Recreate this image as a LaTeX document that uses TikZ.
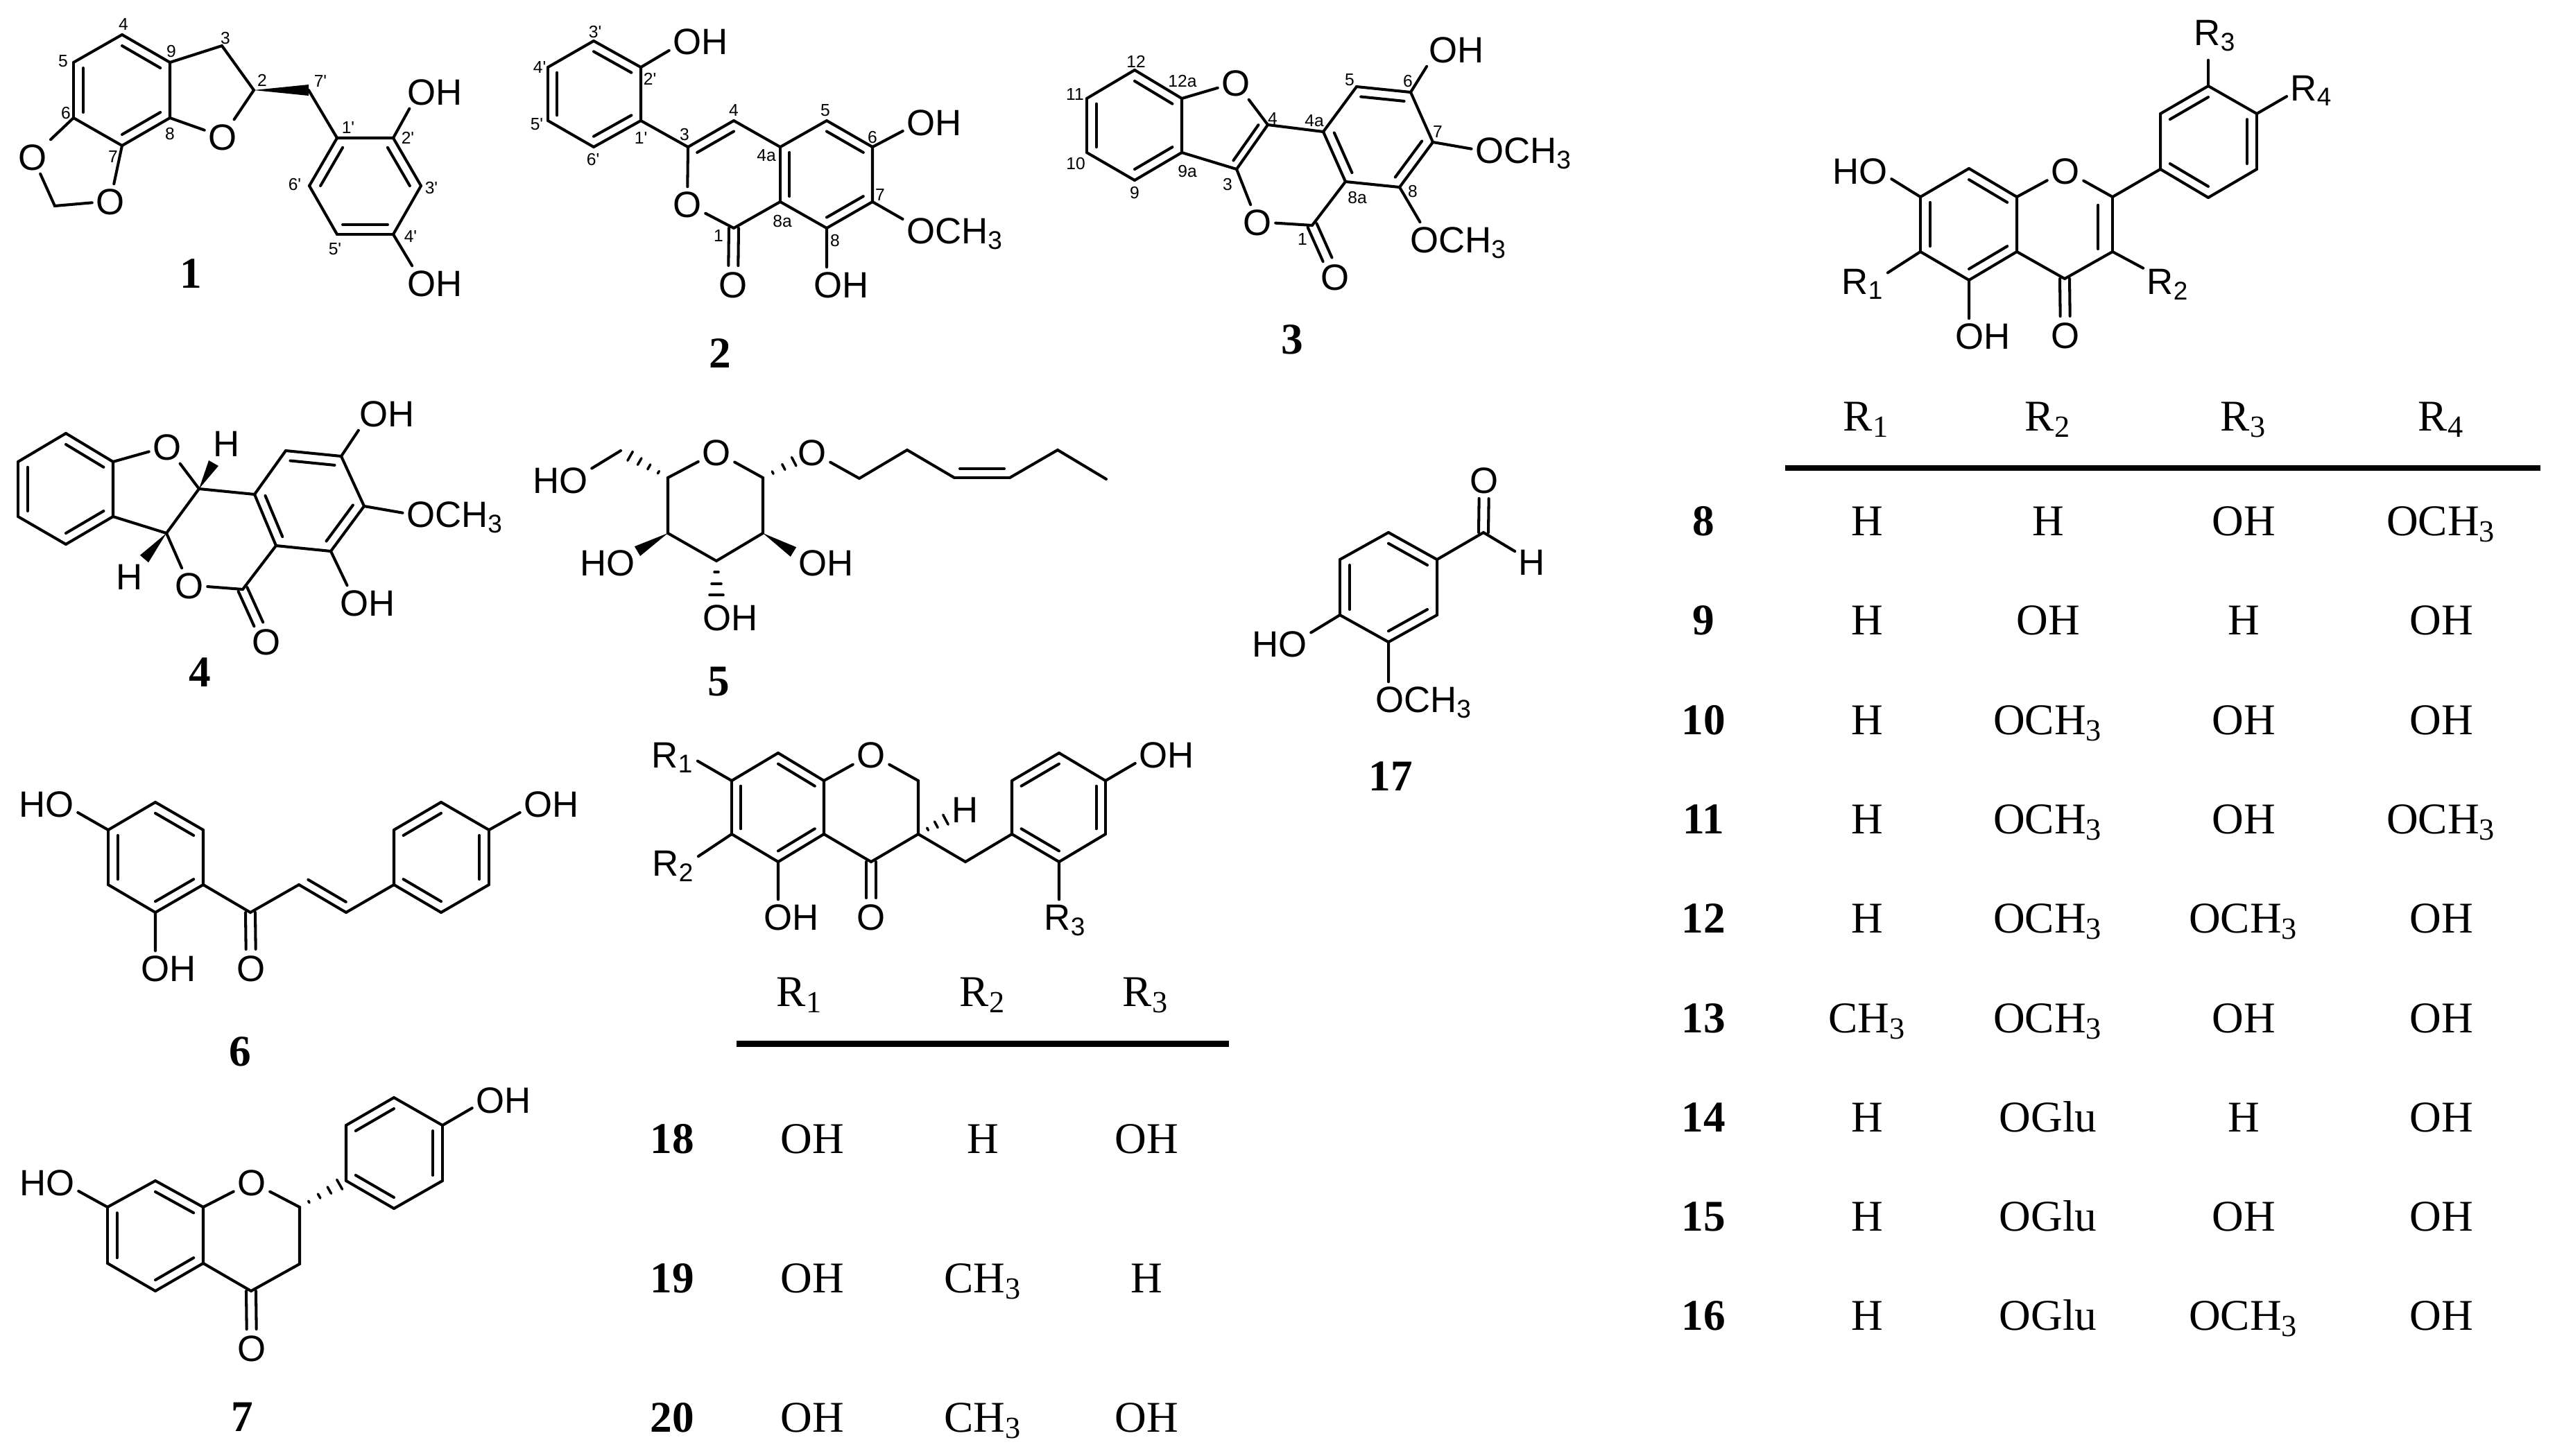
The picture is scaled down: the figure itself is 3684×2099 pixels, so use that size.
\documentclass[tikz,border=0pt]{standalone}
\usepackage{fontspec}
\setmainfont{Liberation Serif}
\newfontfamily\atomfont{Liberation Sans}
\usetikzlibrary{calc}
\tikzset{bond/.style={line width=1.15pt,line cap=round}}
\tikzset{hash bond/.style={line width=1pt,line cap=round}}
\tikzset{table rule/.style={line width=2.55pt}}
\tikzset{atom/.style={font=\atomfont\fontsize{15}{16}\selectfont,inner sep=0.05cm,text height=0.38cm,text depth=0cm}}
\tikzset{locant/.style={font=\atomfont\fontsize{7}{8}\selectfont,inner sep=0pt}}
\tikzset{compound/.style={font=\bfseries\fontsize{18}{20}\selectfont,inner sep=0pt}}
\tikzset{cell/.style={font=\fontsize{18}{20}\selectfont,inner sep=0pt,anchor=base}}
\tikzset{row/.style={font=\bfseries\fontsize{18}{20}\selectfont,inner sep=0pt,anchor=base}}
\newcommand{\dbond}[3]{\draw [bond] (#1) -- (#2) ($(#3)!0.8!(#1)$) -- ($(#3)!0.8!(#2)$);}
\newcommand{\cobond}[2]{\draw [bond,shorten >=0.27cm] ($(#1)!0.07cm!90:(#2)$) -- ($(#2)!0.07cm!-90:(#1)$); \draw [bond,shorten >=0.27cm] ($(#1)!0.07cm!-90:(#2)$) -- ($(#2)!0.07cm!90:(#1)$);}
\newcommand{\wedgebond}[2]{\fill (#1) -- ($(#2)!0.08cm!90:(#1)$) -- ($(#2)!0.08cm!-90:(#1)$) -- cycle;}
\newcommand{\hashbond}[3]{\foreach \fr/\hw in {#3} {\draw [hash bond] ($(#1)!\fr!(#2)!\hw cm!90:(#2)$) -- ($(#1)!\fr!(#2)!\hw cm!-90:(#2)$);}}
\begin{document}
\begin{tikzpicture}[x=0.01cm,y=-0.01cm]
        \useasboundingbox (0,0) rectangle (3684,2099);

        \coordinate (a4) at (176,50);
        \coordinate (a9) at (245,90);
        \coordinate (a8) at (245,170);
        \coordinate (a7) at (176,210);
        \coordinate (a6) at (106,170);
        \coordinate (a5) at (106,90);
        \coordinate (a3) at (320,66);
        \coordinate (a2) at (366,130);
        \coordinate (a7') at (445,130);
        \coordinate (a1') at (486,199);
        \coordinate (a2') at (567,199);
        \coordinate (a3') at (607,268);
        \coordinate (a4') at (567,338);
        \coordinate (a5') at (486,338);
        \coordinate (a6') at (446,268);
        \coordinate (a10) at (79,297);
        \coordinate (ra) at ($(a4)!.5!(a7)$);
        \coordinate (rb) at ($(a3')!.5!(a6')$);
        \node (ao1) [atom] at (321,197) {O};
        \node (ao2) [atom] at (47,226) {O};
        \node (ao3) [atom] at (159,290) {O};
        \node (aoh1) [atom] at (627,132) {OH};
        \node (aoh2) [atom] at (627,408) {OH};
        \node (al1) [compound] at (275,395) {1};

        \draw [bond] (a5) -- (a4) (a9) -- (a8) (a7) -- (a6);
        \dbond{a4}{a9}{ra} \dbond{a8}{a7}{ra} \dbond{a6}{a5}{ra}
        \draw [bond] (a9) -- (a3) -- (a2) -- (ao1) -- (a8);
        \draw [bond] (a6) -- (ao2) -- (a10) -- (ao3) -- (a7);
        \wedgebond{a2}{a7'}
        \draw [bond] (a7') -- (a1') (a1') -- (a2') (a3') -- (a4') (a5') -- (a6');
        \dbond{a1'}{a6'}{rb} \dbond{a2'}{a3'}{rb} \dbond{a4'}{a5'}{rb}
        \draw [bond] (a2') -- (aoh1.214) (a4') -- (aoh2.143);

        \node (an4) [locant] at (178,35) {4};
        \node (an3) [locant] at (325,55) {3};
        \node (an9) [locant] at (247,74) {9};
        \node (an5) [locant] at (91,88) {5};
        \node (an2) [locant] at (378,116) {2};
        \node (an7') [locant] at (462,117) {7'};
        \node (an6) [locant] at (95,163) {6};
        \node (an8) [locant] at (245,193) {8};
        \node (an1') [locant] at (502,184) {1'};
        \node (an2') [locant] at (588,199) {2'};
        \node (an7) [locant] at (163,226) {7};
        \node (an6') [locant] at (425,266) {6'};
        \node (an3') [locant] at (622,271) {3'};
        \node (an4') [locant] at (592,341) {4'};
        \node (an5') [locant] at (483,359) {5'};

        \coordinate (b3') at (856,59);
        \coordinate (b2') at (924,97);
        \coordinate (b1') at (924,174);
        \coordinate (b6') at (856,212);
        \coordinate (b5') at (790,174);
        \coordinate (b4') at (790,97);
        \coordinate (b3) at (992,212);
        \coordinate (b4) at (1058,174);
        \coordinate (b4a) at (1125,212);
        \coordinate (b5) at (1192,174);
        \coordinate (b6) at (1258,212);
        \coordinate (b7) at (1258,291);
        \coordinate (b8) at (1192,329);
        \coordinate (b8a) at (1125,291);
        \coordinate (b1) at (1058,329);
        \coordinate (rc) at ($(b3')!.5!(b6')$);
        \coordinate (rd) at ($(b4)!.5!(b1)$);
        \coordinate (re) at ($(b5)!.5!(b8)$);
        \node (bo1) [atom] at (991,294) {O};
        \node (bo2) [atom] at (1057,410) {O};
        \node (boh1) [atom] at (1010,59) {OH};
        \node (boh2) [atom] at (1347,176) {OH};
        \node (boh3) [atom] at (1213,410) {OH};
        \node (bme) [atom] at (1377,332) {OCH\textsubscript{3}};
        \node (bl2) [compound] at (1038,510) {2};

        \draw [bond] (b3') -- (b4') (b5') -- (b6') (b2') -- (b1');
        \dbond{b3'}{b2'}{rc} \dbond{b4'}{b5'}{rc} \dbond{b6'}{b1'}{rc}
        \draw [bond] (b1') -- (b3) -- (bo1) -- (b1) (b4) -- (b4a) (b8a) -- (b1);
        \dbond{b3}{b4}{rd}
        \cobond{b1}{bo2}
        \draw [bond] (b4a) -- (b5) (b6) -- (b7) (b8) -- (b8a);
        \dbond{b4a}{b8a}{re} \dbond{b5}{b6}{re} \dbond{b7}{b8}{re}
        \draw [bond] (b2') -- (boh1.197) (b6) -- (boh2.196) (b7) -- (bme.168) (b8) -- (b8 |- boh3.north);

        \node (bn3') [locant] at (858,46) {3'};
        \node (bn4') [locant] at (778,97) {4'};
        \node (bn2') [locant] at (937,114) {2'};
        \node (bn5') [locant] at (774,179) {5'};
        \node (bn4) [locant] at (1058,159) {4};
        \node (bn5) [locant] at (1190,159) {5};
        \node (bn3) [locant] at (987,194) {3};
        \node (bn1') [locant] at (924,199) {1'};
        \node (bn6) [locant] at (1258,198) {6};
        \node (bn6') [locant] at (855,230) {6'};
        \node (bn4a) [locant] at (1105,224) {4a};
        \node (bn7) [locant] at (1269,281) {7};
        \node (bn8a) [locant] at (1128,319) {8a};
        \node (bn1) [locant] at (1036,340) {1};
        \node (bn8) [locant] at (1204,347) {8};

        \coordinate (c12) at (1636,101);
        \coordinate (c12a) at (1704,142);
        \coordinate (c9a) at (1704,220);
        \coordinate (c9) at (1636,260);
        \coordinate (c10) at (1567,220);
        \coordinate (c11) at (1567,142);
        \coordinate (c4) at (1828,180);
        \coordinate (c3) at (1783,244);
        \coordinate (c4a) at (1908,190);
        \coordinate (c5) at (1956,125);
        \coordinate (c6) at (2034,133);
        \coordinate (c7) at (2066,205);
        \coordinate (c8) at (2018,270);
        \coordinate (c8a) at (1940,262);
        \coordinate (c1) at (1892,325);
        \coordinate (rf) at ($(c12)!.5!(c9)$);
        \coordinate (rg) at (1760,181);
        \coordinate (rh) at ($(c5)!.5!(c8)$);
        \node (co1) [atom] at (1782,119) {O};
        \node (co2) [atom] at (1813,320) {O};
        \node (co3) [atom] at (1925,399) {O};
        \node (coh) [atom] at (2100,71) {OH};
        \node (cme1) [atom] at (2197,216) {OCH\textsubscript{3}};
        \node (cme2) [atom] at (2103,345) {OCH\textsubscript{3}};
        \node (cl3) [compound] at (1863,490) {3};

        \draw [bond] (c11) -- (c12) (c12a) -- (c9a) (c9) -- (c10);
        \dbond{c12}{c12a}{rf} \dbond{c9a}{c9}{rf} \dbond{c10}{c11}{rf}
        \draw [bond] (c12a) -- (co1) -- (c4) (c3) -- (c9a) (c4) -- (c4a) (c3) -- (co2) -- (c1) -- (c8a);
        \dbond{c4}{c3}{rg}
        \cobond{c1}{co3}
        \draw [bond] (c4a) -- (c5) (c6) -- (c7) (c8) -- (c8a);
        \dbond{c4a}{c8a}{rh} \dbond{c5}{c6}{rh} \dbond{c7}{c8}{rh}
        \draw [bond] (c6) -- (coh.210) (c7) -- (cme1.179) (c8) -- (cme2.156);

        \node (cn12) [locant] at (1638,89) {12};
        \node (cn12a) [locant] at (1705,117) {12a};
        \node (cn11) [locant] at (1550,136) {11};
        \node (cn5) [locant] at (1946,115) {5};
        \node (cn6) [locant] at (2030,117) {6};
        \node (cn4) [locant] at (1835,171) {4};
        \node (cn4a) [locant] at (1895,174) {4a};
        \node (cn7) [locant] at (2073,190) {7};
        \node (cn10) [locant] at (1551,236) {10};
        \node (cn9a) [locant] at (1712,247) {9a};
        \node (cn3) [locant] at (1770,266) {3};
        \node (cn8) [locant] at (2037,276) {8};
        \node (cn8a) [locant] at (1957,285) {8a};
        \node (cn9) [locant] at (1636,278) {9};
        \node (cn1) [locant] at (1878,345) {1};

        \coordinate (d1) at (95,625);
        \coordinate (d2) at (163,666);
        \coordinate (d3) at (163,745);
        \coordinate (d4) at (95,785);
        \coordinate (d5) at (26,745);
        \coordinate (d6) at (26,666);
        \coordinate (d7) at (287,705);
        \coordinate (d8) at (240,769);
        \coordinate (d9) at (367,713);
        \coordinate (d10) at (412,650);
        \coordinate (d11) at (492,658);
        \coordinate (d12) at (525,730);
        \coordinate (d13) at (477,795);
        \coordinate (d14) at (398,787);
        \coordinate (d15) at (350,850);
        \coordinate (dw1) at (308,668);
        \coordinate (dw2) at (208,806);
        \coordinate (ri) at ($(d1)!.5!(d4)$);
        \coordinate (rj) at ($(d10)!.5!(d13)$);
        \node (do1) [atom] at (241,644) {O};
        \node (do2) [atom] at (273,844) {O};
        \node (do3) [atom] at (384,925) {O};
        \node (dh1) [atom] at (327,639) {H};
        \node (dh2) [atom] at (187,831) {H};
        \node (doh1) [atom] at (558,596) {OH};
        \node (doh2) [atom] at (530,869) {OH};
        \node (dme) [atom] at (656,741) {OCH\textsubscript{3}};
        \node (dl4) [compound] at (288,970) {4};

        \draw [bond] (d6) -- (d1) (d2) -- (d3) (d4) -- (d5);
        \dbond{d1}{d2}{ri} \dbond{d3}{d4}{ri} \dbond{d5}{d6}{ri}
        \draw [bond] (d2) -- (do1) -- (d7) -- (d8) -- (d3) (d7) -- (d9) (d8) -- (do2) -- (d15) -- (d14);
        \wedgebond{d7}{dw1}
        \wedgebond{d8}{dw2}
        \cobond{d15}{do3}
        \draw [bond] (d9) -- (d10) (d11) -- (d12) (d13) -- (d14);
        \dbond{d9}{d14}{rj} \dbond{d10}{d11}{rj} \dbond{d12}{d13}{rj}
        \draw [bond] (d11) -- (doh1.211) (d12) -- (dme.179) (d13) -- (doh2.140);

        \coordinate (e1) at (1100,689);
        \coordinate (e2) at (1100,769);
        \coordinate (e3) at (1033,809);
        \coordinate (e4) at (963,769);
        \coordinate (e5) at (963,689);
        \coordinate (e6) at (895,650);
        \coordinate (e7) at (1239,690);
        \coordinate (e8) at (1308,649);
        \coordinate (e9) at (1376,689);
        \coordinate (e10) at (1456,689);
        \coordinate (e11) at (1525,649);
        \coordinate (e12) at (1595,691);
        \coordinate (ew1) at (1144,796);
        \coordinate (ew2) at (919,795);
        \coordinate (ew3) at (1033,866);
        \coordinate (rk) at (1416,624);
        \node (eo1) [atom] at (1033,652) {O};
        \node (eo2) [atom] at (1171,652) {O};
        \node (eho1) [atom] at (808,692) {HO};
        \node (eho2) [atom] at (876,811) {HO};
        \node (eoh1) [atom] at (1191,811) {OH};
        \node (eoh2) [atom] at (1053,890) {OH};
        \node (el5) [compound] at (1036,983) {5};

        \draw [bond] (eo1) -- (e1) -- (e2) -- (e3) -- (e4) -- (e5) -- (eo1);
        \draw [bond] (e6) -- (eho1.20) (eo2) -- (e7) -- (e8) -- (e9) (e10) -- (e11) -- (e12);
        \dbond{e9}{e10}{rk}
        \wedgebond{e2}{ew1}
        \wedgebond{e4}{ew2}
        \hashbond{e5}{e6}{.2/.02,.4/.04,.6/.055,.8/.075}
        \hashbond{e1}{eo2}{.2/.02,.42/.045,.63/.07}
        \hashbond{e3}{ew3}{.28/.03,.58/.07,.86/.1}

        \coordinate (f1) at (224,1157);
        \coordinate (f2) at (293,1197);
        \coordinate (f3) at (293,1276);
        \coordinate (f4) at (224,1316);
        \coordinate (f5) at (156,1276);
        \coordinate (f6) at (156,1197);
        \coordinate (f7) at (361,1316);
        \coordinate (f8) at (431,1276);
        \coordinate (f9) at (499,1316);
        \coordinate (f10) at (568,1276);
        \coordinate (f11) at (568,1197);
        \coordinate (f12) at (636,1157);
        \coordinate (f13) at (705,1197);
        \coordinate (f14) at (705,1276);
        \coordinate (f15) at (636,1316);
        \coordinate (rl) at ($(f1)!.5!(f4)$);
        \coordinate (rm) at ($(f12)!.5!(f15)$);
        \coordinate (rn) at (498,1240);
        \node (fho) [atom] at (67,1159) {HO};
        \node (foh1) [atom] at (243,1396) {OH};
        \node (fo) [atom] at (362,1396) {O};
        \node (foh2) [atom] at (795,1159) {OH};
        \node (fl6) [compound] at (346,1517) {6};

        \draw [bond] (f6) -- (f1) (f2) -- (f3) (f4) -- (f5);
        \dbond{f1}{f2}{rl} \dbond{f3}{f4}{rl} \dbond{f5}{f6}{rl}
        \draw [bond] (f3) -- (f7) -- (f8) (f9) -- (f10);
        \cobond{f7}{fo}
        \dbond{f8}{f9}{rn}
        \draw [bond] (f10) -- (f11) (f12) -- (f13) (f14) -- (f15);
        \dbond{f11}{f12}{rm} \dbond{f13}{f14}{rm} \dbond{f15}{f10}{rm}
        \draw [bond] (f6) -- (fho.-16) (f4) -- (f4 |- foh1.north) (f13) -- (foh2.196);

        \coordinate (g1) at (224,1703);
        \coordinate (g2) at (293,1741);
        \coordinate (g3) at (293,1822);
        \coordinate (g4) at (224,1862);
        \coordinate (g5) at (155,1822);
        \coordinate (g6) at (155,1741);
        \coordinate (g7) at (432,1741);
        \coordinate (g8) at (432,1823);
        \coordinate (g9) at (362,1862);
        \coordinate (g10) at (499,1703);
        \coordinate (g11) at (499,1623);
        \coordinate (g12) at (568,1583);
        \coordinate (g13) at (638,1623);
        \coordinate (g14) at (638,1703);
        \coordinate (g15) at (568,1743);
        \coordinate (ro) at ($(g1)!.5!(g4)$);
        \coordinate (rp) at ($(g12)!.5!(g15)$);
        \node (gho) [atom] at (68,1705) {HO};
        \node (go1) [atom] at (363,1705) {O};
        \node (go2) [atom] at (363,1944) {O};
        \node (goh) [atom] at (726,1586) {OH};
        \node (gl7) [compound] at (349,2044) {7};

        \draw [bond] (g6) -- (g1) (g2) -- (g3) (g4) -- (g5);
        \dbond{g1}{g2}{ro} \dbond{g3}{g4}{ro} \dbond{g5}{g6}{ro}
        \draw [bond] (g2) -- (go1) -- (g7) -- (g8) -- (g9) -- (g3);
        \cobond{g9}{go2}
        \hashbond{g7}{g10}{.2/.015,.42/.035,.64/.055,.86/.08}
        \draw [bond] (g10) -- (g11) (g12) -- (g13) (g14) -- (g15);
        \dbond{g11}{g12}{rp} \dbond{g13}{g14}{rp} \dbond{g15}{g10}{rp}
        \draw [bond] (g6) -- (gho.-16) (g13) -- (goh.195);

        \coordinate (q1) at (2002,768);
        \coordinate (q2) at (2072,807);
        \coordinate (q3) at (2072,887);
        \coordinate (q4) at (2002,926);
        \coordinate (q5) at (1932,887);
        \coordinate (q6) at (1932,807);
        \coordinate (q7) at (2139,768);
        \coordinate (rq) at ($(q1)!.5!(q4)$);
        \node (qo) [atom] at (2140,692) {O};
        \node (qh) [atom] at (2209,810) {H};
        \node (qho) [atom] at (1845,928) {HO};
        \node (qme) [atom] at (2053,1008) {OCH\textsubscript{3}};
        \node (ql17) [compound] at (2005,1120) {17};

        \draw [bond] (q6) -- (q1) (q2) -- (q3) (q4) -- (q5);
        \dbond{q1}{q2}{rq} \dbond{q3}{q4}{rq} \dbond{q5}{q6}{rq}
        \draw [bond] (q2) -- (q7) -- (qh);
        \cobond{q7}{qo}
        \draw [bond] (q5) -- (qho.19) (q4) -- (q4 |- qme.north);

        \coordinate (r1) at (1122,1086);
        \coordinate (r2) at (1188,1126);
        \coordinate (r3) at (1188,1203);
        \coordinate (r4) at (1122,1243);
        \coordinate (r5) at (1055,1203);
        \coordinate (r6) at (1055,1126);
        \coordinate (r7) at (1324,1126);
        \coordinate (r8) at (1324,1203);
        \coordinate (r9) at (1256,1243);
        \coordinate (r10) at (1392,1243);
        \coordinate (r11) at (1459,1203);
        \coordinate (r12) at (1459,1126);
        \coordinate (r13) at (1527,1086);
        \coordinate (r14) at (1594,1126);
        \coordinate (r15) at (1594,1203);
        \coordinate (r16) at (1527,1243);
        \coordinate (rr) at ($(r1)!.5!(r4)$);
        \coordinate (rs) at ($(r13)!.5!(r16)$);
        \node (ro1) [atom] at (1256,1088) {O};
        \node (ro2) [atom] at (1256,1322) {O};
        \node (roh1) [atom] at (1141,1322) {OH};
        \node (roh2) [atom] at (1682,1088) {OH};
        \node (rh) [atom] at (1392,1167) {H};
        \node (rr1) [atom] at (970,1088) {R\textsubscript{1}};
        \node (rr2) [atom] at (971,1244) {R\textsubscript{2}};
        \node (rr3) [atom] at (1536,1322) {R\textsubscript{3}};

        \draw [bond] (r6) -- (r1) (r2) -- (r3) (r4) -- (r5);
        \dbond{r1}{r2}{rr} \dbond{r3}{r4}{rr} \dbond{r5}{r6}{rr}
        \draw [bond] (r2) -- (ro1) -- (r7) -- (r8) -- (r9) -- (r3) (r8) -- (r10) -- (r11);
        \cobond{r9}{ro2}
        \hashbond{r8}{rh}{.2/.02,.38/.05,.58/.08}
        \draw [bond] (r11) -- (r12) (r13) -- (r14) (r15) -- (r16);
        \dbond{r12}{r13}{rs} \dbond{r14}{r15}{rs} \dbond{r16}{r11}{rs}
        \draw [bond] (r6) -- (rr1.-15) (r5) -- (rr2.14) (r4) -- (r4 |- roh1.north) (r14) -- (roh2.196) (r16) -- (r16 |- rr3.north);

        \coordinate (s1) at (1062,1505);
        \coordinate (s2) at (1772,1505);
        \draw [table rule] (s1) -- (s2);
        \node (sh1) [cell] at (1153,1451) {R\textsubscript{1}};
        \node (sh2) [cell] at (1417,1451) {R\textsubscript{2}};
        \node (sh3) [cell] at (1652,1451) {R\textsubscript{3}};
        \node (s18) [row] at (969,1663) {18};
        \node (s18a) [cell] at (1171,1663) {OH};
        \node (s18b) [cell] at (1417,1663) {H};
        \node (s18c) [cell] at (1653,1663) {OH};
        \node (s19) [row] at (969,1864) {19};
        \node (s19a) [cell] at (1171,1864) {OH};
        \node (s19b) [cell] at (1417,1864) {CH\textsubscript{3}};
        \node (s19c) [cell] at (1653,1864) {H};
        \node (s20) [row] at (969,2065) {20};
        \node (s20a) [cell] at (1171,2065) {OH};
        \node (s20b) [cell] at (1417,2065) {CH\textsubscript{3}};
        \node (s20c) [cell] at (1653,2065) {OH};

        \coordinate (h1) at (2839,243);
        \coordinate (h2) at (2908,284);
        \coordinate (h3) at (2908,363);
        \coordinate (h4) at (2839,404);
        \coordinate (h5) at (2769,363);
        \coordinate (h6) at (2769,284);
        \coordinate (h7) at (3046,284);
        \coordinate (h8) at (3046,363);
        \coordinate (h9) at (2977,402);
        \coordinate (h10) at (3115,244);
        \coordinate (h11) at (3115,164);
        \coordinate (h12) at (3184,124);
        \coordinate (h13) at (3254,164);
        \coordinate (h14) at (3254,244);
        \coordinate (h15) at (3184,285);
        \coordinate (rt) at ($(h1)!.5!(h4)$);
        \coordinate (ru) at ($(h2)!.5!(h9)$);
        \coordinate (rv) at ($(h12)!.5!(h15)$);
        \node (ho1) [atom] at (2978,246) {O};
        \node (ho2) [atom] at (2978,483) {O};
        \node (hho) [atom] at (2682,246) {HO};
        \node (hoh) [atom] at (2859,484) {OH};
        \node (hr1) [atom] at (2686,405) {R\textsubscript{1}};
        \node (hr2) [atom] at (3126,405) {R\textsubscript{2}};
        \node (hr3) [atom] at (3194,46) {R\textsubscript{3}};
        \node (hr4) [atom] at (3333,126) {R\textsubscript{4}};

        \draw [bond] (h6) -- (h1) (h2) -- (h3) (h4) -- (h5);
        \dbond{h1}{h2}{rt} \dbond{h3}{h4}{rt} \dbond{h5}{h6}{rt}
        \draw [bond] (h2) -- (ho1) -- (h7) (h8) -- (h9) -- (h3) (h7) -- (h10);
        \dbond{h7}{h8}{ru}
        \cobond{h9}{ho2}
        \draw [bond] (h10) -- (h11) (h12) -- (h13) (h14) -- (h15);
        \dbond{h11}{h12}{rv} \dbond{h13}{h14}{rv} \dbond{h15}{h10}{rv}
        \draw [bond] (h6) -- (hho.-15) (h5) -- (hr1.18) (h4) -- (h4 |- hoh.north) (h8) -- (hr2.153) (h13) -- (hr4.200);
        \draw [bond,shorten >=0.16cm] (h12) -- (h12 |- hr3.south);

        \coordinate (t1) at (2574,675);
        \coordinate (t2) at (3663,675);
        \draw [table rule] (t1) -- (t2);
        \node (th1) [cell] at (2691,621) {R\textsubscript{1}};
        \node (th2) [cell] at (2953,621) {R\textsubscript{2}};
        \node (th3) [cell] at (3235,621) {R\textsubscript{3}};
        \node (th4) [cell] at (3520,621) {R\textsubscript{4}};

        \node (t8) [row] at (2456,772) {8};
        \node (t8a) [cell] at (2692,772) {H};
        \node (t8b) [cell] at (2953,772) {H};
        \node (t8c) [cell] at (3235,772) {OH};
        \node (t8d) [cell] at (3520,772) {OCH\textsubscript{3}};
        \node (t9) [row] at (2456,915) {9};
        \node (t9a) [cell] at (2692,915) {H};
        \node (t9b) [cell] at (2953,915) {OH};
        \node (t9c) [cell] at (3235,915) {H};
        \node (t9d) [cell] at (3520,915) {OH};
        \node (t10) [row] at (2456,1059) {10};
        \node (t10a) [cell] at (2692,1059) {H};
        \node (t10b) [cell] at (2953,1059) {OCH\textsubscript{3}};
        \node (t10c) [cell] at (3235,1059) {OH};
        \node (t10d) [cell] at (3520,1059) {OH};
        \node (t11) [row] at (2456,1202) {11};
        \node (t11a) [cell] at (2692,1202) {H};
        \node (t11b) [cell] at (2953,1202) {OCH\textsubscript{3}};
        \node (t11c) [cell] at (3235,1202) {OH};
        \node (t11d) [cell] at (3520,1202) {OCH\textsubscript{3}};
        \node (t12) [row] at (2456,1345) {12};
        \node (t12a) [cell] at (2692,1345) {H};
        \node (t12b) [cell] at (2953,1345) {OCH\textsubscript{3}};
        \node (t12c) [cell] at (3235,1345) {OCH\textsubscript{3}};
        \node (t12d) [cell] at (3520,1345) {OH};
        \node (t13) [row] at (2456,1489) {13};
        \node (t13a) [cell] at (2692,1489) {CH\textsubscript{3}};
        \node (t13b) [cell] at (2953,1489) {OCH\textsubscript{3}};
        \node (t13c) [cell] at (3235,1489) {OH};
        \node (t13d) [cell] at (3520,1489) {OH};
        \node (t14) [row] at (2456,1632) {14};
        \node (t14a) [cell] at (2692,1632) {H};
        \node (t14b) [cell] at (2953,1632) {OGlu};
        \node (t14c) [cell] at (3235,1632) {H};
        \node (t14d) [cell] at (3520,1632) {OH};
        \node (t15) [row] at (2456,1775) {15};
        \node (t15a) [cell] at (2692,1775) {H};
        \node (t15b) [cell] at (2953,1775) {OGlu};
        \node (t15c) [cell] at (3235,1775) {OH};
        \node (t15d) [cell] at (3520,1775) {OH};
        \node (t16) [row] at (2456,1918) {16};
        \node (t16a) [cell] at (2692,1918) {H};
        \node (t16b) [cell] at (2953,1918) {OGlu};
        \node (t16c) [cell] at (3235,1918) {OCH\textsubscript{3}};
        \node (t16d) [cell] at (3520,1918) {OH};
        \end{tikzpicture}
\end{document}
